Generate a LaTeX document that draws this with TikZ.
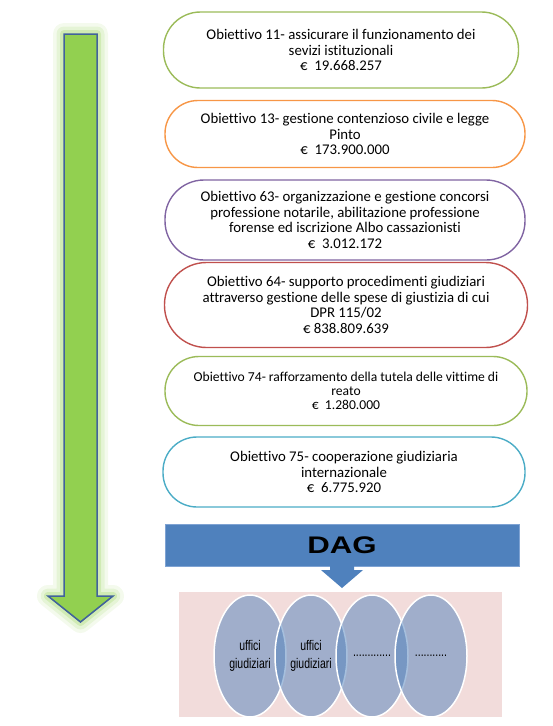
\documentclass[tikz,border=0pt]{standalone}
\usepackage{fontspec}
\setmainfont{Carlito}[Ligatures=NoCommon]
\newfontfamily\dagfont[FakeStretch=1.3]{Liberation Sans}
\newfontfamily\narrowfont[FakeStretch=0.75]{Liberation Sans}
\usetikzlibrary{shapes.geometric}
\definecolor{olgreen}{HTML}{9BBB59}
\definecolor{olorange}{HTML}{F79646}
\definecolor{olpurple}{HTML}{8064A2}
\definecolor{olred}{HTML}{C0504D}
\definecolor{olcyan}{HTML}{4BACC6}
\definecolor{dagblue}{HTML}{4F81BD}
\definecolor{dagedge}{HTML}{7FA3D3}
\definecolor{pinkbg}{HTML}{F2DCDB}
\definecolor{arrowgreen}{HTML}{92D050}
\definecolor{arrowblue}{HTML}{41639B}
\newcommand\puntini[1]{\foreach \k in {1,...,#1}{.}}
\begin{document}
\begin{tikzpicture}[x=1pt,y=-1pt,
objstyle/.style={draw=#1,line width=1.4pt,rectangle,minimum width=360pt,inner sep=0pt,align=center,font=\fontsize{14.8}{15.5}\selectfont},
ufficiostyle/.style={ellipse,draw=white,line width=1.5pt,fill=dagblue,fill opacity=0.5,text opacity=1,minimum width=72pt,minimum height=122pt,inner sep=0pt,align=center,font=\narrowfont\fontsize{14}{18}\selectfont}]
\useasboundingbox (0,0) rectangle (553,726);

\foreach \w/\o in {22/0.1,15/0.15,8/0.25}
 \draw[arrowgreen,line width=\w pt,opacity=\o,line join=round] (64,34) -- (97,34) -- (97,596) -- (113,596) -- (80.5,622) -- (48,596) -- (64,596) -- cycle;
\draw[fill=arrowgreen,draw=arrowblue,line width=1.5pt] (64,34) -- (97,34) -- (97,596) -- (113,596) -- (80.5,622) -- (48,596) -- (64,596) -- cycle;

\node[objstyle=olgreen,minimum width=355pt,minimum height=76pt,rounded corners=37pt](ob11) at (341,50){Obiettivo 11- assicurare il funzionamento dei\\sevizi istituzionali\\€~ 19.668.257};
\node[objstyle=olorange,minimum height=67pt,rounded corners=33pt](ob13) at (345,134){Obiettivo 13- gestione contenzioso civile e legge\\Pinto\\€~ 173.900.000};
\node[objstyle=olpurple,minimum height=80pt,rounded corners=39pt](ob63) at (345,220){Obiettivo 63- organizzazione e gestione concorsi\\professione notarile, abilitazione professione\\forense ed iscrizione Albo cassazionisti\\€~ 3.012.172};
\node[objstyle=olred,minimum width=363pt,minimum height=85pt,rounded corners=42pt](ob64) at (346,305){Obiettivo 64- supporto procedimenti giudiziari\\attraverso gestione delle spese di giustizia di cui\\DPR 115/02\\€ 838.809.639};
\node[objstyle=olgreen,minimum width=362pt,minimum height=69pt,rounded corners=34pt,font=\fontsize{13.6}{14.2}\selectfont](ob74) at (346,391){Obiettivo 74- rafforzamento della tutela delle vittime di\\reato\\€~ 1.280.000};
\node[objstyle=olcyan,minimum width=362pt,minimum height=70pt,rounded corners=34pt](ob75) at (344,472){Obiettivo 75- cooperazione giudiziaria\\internazionale\\€~ 6.775.920};

\fill[pinkbg] (179,592) rectangle (502,717);
\node[draw=dagedge,line width=0.6pt,fill=dagblue,minimum width=354pt,minimum height=42pt,inner sep=0pt,font=\dagfont\bfseries\fontsize{24}{28}\selectfont](dag) at (342,545){DAG};
\fill[dagblue] (330,566) -- (330,570) -- (321,570) -- (342,588) -- (363,570) -- (354,570) -- (354,566) -- cycle;

\foreach \x/\t [count=\i] in {250/{uffici\\giudiziari},311/{uffici\\giudiziari},372/{\puntini{13}},431/{\puntini{11}}}
{\node[ufficiostyle](uff\i) at (\x,656){\t};
}
\end{tikzpicture}
\end{document}
